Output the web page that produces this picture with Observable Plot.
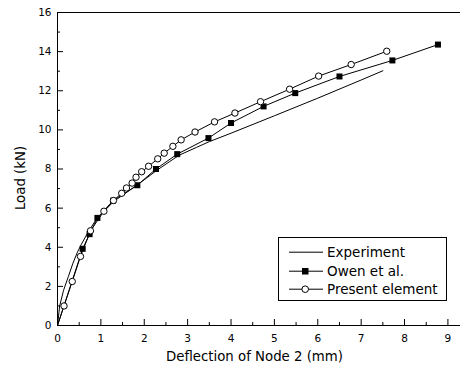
<!DOCTYPE html>
<html>
<head>
<meta charset="utf-8">
<script src="https://cdn.jsdelivr.net/npm/d3@7"></script>
<script src="https://cdn.jsdelivr.net/npm/@observablehq/plot@0.6"></script>
<style>
  html, body { margin: 0; padding: 0; background: white; }
  #wrap { position: relative; width: 460px; height: 367px; font-family: "DejaVu Sans", sans-serif; }
  #legend { position: absolute; left: 278px; top: 237px; width: 167px; height: 62px; border: 1px solid black; background: white; }
  .row { position: absolute; left: 0; height: 18px; width: 167px; }
  .row svg { position: absolute; left: 9px; top: 0; }
  .row span { position: absolute; left: 48px; top: 0; font-size: 13.5px; line-height: 18px; color: black; white-space: nowrap; }
  #ylabel { position: absolute; left: 20.5px; top: 178px; transform: translate(-50%, -50%) rotate(-90deg); font-size: 13.3px; line-height: 13.3px; white-space: nowrap; color: black; }
</style>
</head>
<body>
<div id="wrap"></div>
<script>
// Experiment
const expX = [0, 0.05, 0.14, 0.25, 0.35, 0.45, 0.55, 0.7, 0.9, 1.3, 1.85, 2.3, 2.8, 3.2, 3.5, 4.0, 5.0, 6.0, 7.0, 7.5];
const expY = [0, 1.0, 1.8, 2.5, 3.15, 3.7, 4.15, 4.75, 5.45, 6.35, 7.2, 7.95, 8.7, 9.1, 9.4, 9.83, 10.72, 11.62, 12.55, 13.02];
// Owen et al.
const owenX = [0, 0.58, 0.74, 0.92, 1.28, 1.84, 2.27, 2.76, 3.48, 4.0, 4.75, 5.48, 6.5, 7.72, 8.77];
const owenY = [0, 3.92, 4.67, 5.5, 6.38, 7.17, 8.0, 8.76, 9.58, 10.35, 11.2, 11.88, 12.73, 13.55, 14.36];
// Present element
const presX = [0, 0.15, 0.34, 0.53, 0.76, 1.07, 1.29, 1.48, 1.59, 1.72, 1.81, 1.94, 2.1, 2.31, 2.46, 2.66, 2.85, 3.17, 3.62, 4.09, 4.68, 5.35, 6.02, 6.77, 7.59];
const presY = [0, 1.0, 2.25, 3.53, 4.84, 5.84, 6.39, 6.76, 7.03, 7.28, 7.58, 7.86, 8.14, 8.52, 8.81, 9.16, 9.49, 9.89, 10.41, 10.86, 11.44, 12.08, 12.75, 13.34, 14.02];

const xMajor = [0, 1, 2, 3, 4, 5, 6, 7, 8, 9];
const xMinor = [0.5, 1.5, 2.5, 3.5, 4.5, 5.5, 6.5, 7.5, 8.5];
const yMajor = [0, 2, 4, 6, 8, 10, 12, 14, 16];
const yMinor = [1, 3, 5, 7, 9, 11, 13, 15];
const seriesNames = ["Experiment", "Owen et al.", "Present element"];
const xLabel = "Deflection of Node 2 (mm)";
const yLabel = "Load (kN)";

const exp = expX.map((x, i) => ({x, y: expY[i]}));
const owen = owenX.map((x, i) => ({x, y: owenY[i]}));
const pres = presX.map((x, i) => ({x, y: presY[i]}));

const chart = Plot.plot({
  width: 460,
  height: 367,
  marginLeft: 57,
  marginRight: 0,
  marginTop: 12,
  marginBottom: 42,
  x: {domain: [0, 9.29]},
  y: {domain: [0, 16]},
  style: {fontFamily: "DejaVu Sans", fontSize: "10.5px", color: "black", background: "white"},
  marks: [
    Plot.axisX({ticks: xMajor, tickSize: -6, tickPadding: 15, label: null, tickFormat: d => String(d)}),
    Plot.axisX({ticks: xMinor, tickSize: -3, label: null, tickFormat: () => ""}),
    Plot.axisY({ticks: yMajor, tickSize: -6, tickPadding: 12, label: null, tickFormat: d => String(d)}),
    Plot.axisY({ticks: yMinor, tickSize: -3, label: null, tickFormat: () => ""}),
    Plot.ruleX([0], {stroke: "black"}),
    Plot.ruleY([0], {stroke: "black"}),
    Plot.ruleY([16], {stroke: "black"}),
    Plot.line(exp, {x: "x", y: "y", stroke: "black", strokeWidth: 1}),
    Plot.line(owen, {x: "x", y: "y", stroke: "black", strokeWidth: 1}),
    Plot.dot(owen.slice(1), {x: "x", y: "y", symbol: "square", r: 3.4, fill: "black", stroke: "none"}),
    Plot.line(pres, {x: "x", y: "y", stroke: "black", strokeWidth: 1}),
    Plot.dot(pres.slice(1), {x: "x", y: "y", symbol: "circle", r: 3.2, fill: "white", stroke: "black", strokeWidth: 1}),
    Plot.text([xLabel], {frameAnchor: "bottom", dx: -4.5, dy: 25.6, lineAnchor: "top", fontSize: 13.3, fill: "black"})
  ]
});

const wrap = document.getElementById("wrap");
wrap.appendChild(chart);

// Y label
const yl = document.createElement("div");
yl.id = "ylabel";
yl.textContent = yLabel;
wrap.appendChild(yl);

// Legend
const legend = document.createElement("div");
legend.id = "legend";
const rowTops = [4.5, 23.5, 42];
seriesNames.forEach((name, i) => {
  const row = document.createElement("div");
  row.className = "row";
  row.style.top = rowTops[i] + "px";
  let sym = "";
  if (i === 1) sym = '<rect x="14" y="6" width="6.5" height="6.5" fill="black"/>';
  if (i === 2) sym = '<circle cx="17.2" cy="9.2" r="3.3" fill="white" stroke="black" stroke-width="1"/>';
  row.innerHTML = '<svg width="36" height="18"><line x1="1" x2="35" y1="9.2" y2="9.2" stroke="black" stroke-width="1"/>' + sym + '</svg><span>' + name + '</span>';
  legend.appendChild(row);
});
wrap.appendChild(legend);
</script>
</body>
</html>
